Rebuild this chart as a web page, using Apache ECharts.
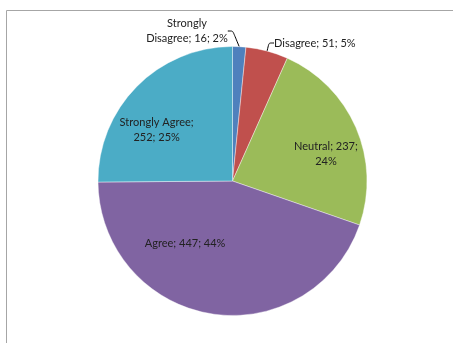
<!DOCTYPE html>
<html>
<head>
<meta charset="utf-8">
<script src="https://cdn.jsdelivr.net/npm/echarts@6/dist/echarts.min.js"></script>
<style>
  html, body { margin: 0; padding: 0; background: #fff; }
  #chart { width: 453px; height: 343px; }
</style>
</head>
<body>
<div id="chart"></div>
<script>
// Survey responses, clockwise from 12 o'clock
const categories = ['Strongly Disagree', 'Disagree', 'Neutral', 'Agree', 'Strongly Agree'];
const counts = [16, 51, 237, 447, 252];
const sliceColors = ['#4F81BD', '#C0504D', '#9BBB59', '#8064A2', '#4BACC6'];

// Label placement: two small slices get leader lines, the rest sit inside
const outsideLabel = [true, true, false, false, false];
// Inside labels: nudges (px) from the default mid-radius spot
const labelNudge = [null, null, [29, 1], [-36, -7], [-26, -2]];
// Outside labels: anchor point and alignment of the text block
const outsideSpot = [
  { x: 187, y: 31, align: 'center' },
  { x: 274, y: 43, align: 'left' },
  null, null, null
];

const data = categories.map((name, i) => ({
  name: name,
  value: counts[i],
  itemStyle: { color: sliceColors[i] },
  label: { position: outsideLabel[i] ? 'outside' : 'inside' },
  labelLine: { show: outsideLabel[i] }
}));

const chart = echarts.init(document.getElementById('chart'), null, { renderer: 'canvas' });

chart.setOption({
  animation: false,
  backgroundColor: '#fff',
  graphic: [{
    type: 'rect',
    shape: { x: 6.5, y: 10.5, width: 460, height: 340 },
    style: { fill: 'none', stroke: '#a6a6a6', lineWidth: 1 },
    silent: true
  }],
  series: [{
    type: 'pie',
    center: [232.5, 181],
    radius: 134.5,
    startAngle: 90,
    clockwise: true,
    percentPrecision: 0,
    avoidLabelOverlap: false,
    itemStyle: { borderColor: '#fff', borderWidth: 0.4 },
    label: {
      fontFamily: 'Lato, "Open Sans", sans-serif',
      fontSize: 11,
      color: '#222',
      lineHeight: 15,
      formatter: (p) => {
        const i = p.dataIndex;
        const tail = p.value + '; ' + p.percent + '%';
        if (i === 0) return 'Strongly\nDisagree; ' + tail;
        if (i === 2) return 'Neutral; ' + p.value + ';\n' + p.percent + '%';
        if (i === 4) return 'Strongly Agree;\n' + tail;
        return p.name + '; ' + tail;
      }
    },
    labelLine: {
      length: 5,
      length2: 5,
      smooth: 0.2,
      lineStyle: { color: '#000', width: 1 }
    },
    labelLayout: (params) => {
      const i = params.dataIndex;
      if (outsideLabel[i]) {
        const s = outsideSpot[i];
        return { x: s.x, y: s.y, align: s.align, verticalAlign: 'middle' };
      }
      const n = labelNudge[i];
      return { dx: n[0], dy: n[1] };
    },
    data: data
  }]
});
</script>
</body>
</html>
